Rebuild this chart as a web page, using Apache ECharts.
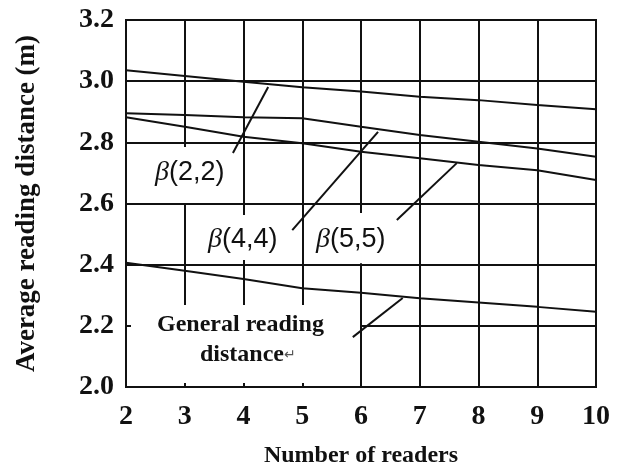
<!DOCTYPE html>
<html>
<head>
<meta charset="utf-8">
<script src="https://cdn.jsdelivr.net/npm/echarts@6/dist/echarts.min.js"></script>
<style>
  html, body { margin: 0; padding: 0; background: #fff; }
  #chart { width: 627px; height: 470px; }
</style>
</head>
<body>
<div id="chart"></div>
<script>
// readers on x axis
const readers = [2, 3, 4, 5, 6, 7, 8, 9, 10];
// average reading distance (m)
const beta22 = [3.036, 3.017, 2.998, 2.980, 2.966, 2.949, 2.938, 2.922, 2.908];
const beta44 = [2.895, 2.889, 2.882, 2.879, 2.851, 2.824, 2.802, 2.780, 2.753];
const beta55 = [2.882, 2.851, 2.818, 2.797, 2.769, 2.748, 2.726, 2.709, 2.677];
const general = [2.406, 2.380, 2.353, 2.323, 2.308, 2.290, 2.276, 2.262, 2.246];

const serif = '"Liberation Serif", "Times New Roman", serif';
const sans = '"Liberation Sans", Arial, sans-serif';

const pairs = ys => readers.map((x, i) => [x, ys[i]]);

// grid lines drawn as pieces, because the figure leaves gaps around its labels
const seg = (x1, y1, x2, y2) => [{ coord: [x1, y1] }, { coord: [x2, y2] }];
const gridLines = [
  // horizontal
  seg(2, 3.0, 10, 3.0), seg(2, 2.8, 10, 2.8), seg(2, 2.6, 10, 2.6),
  seg(2, 2.4, 10, 2.4), seg(6, 2.2, 10, 2.2),
  // vertical
  seg(3, 3.2, 3, 2.785), seg(3, 2.6, 3, 2.268),
  seg(4, 3.2, 4, 2.562), seg(4, 2.415, 4, 2.268),
  seg(5, 3.2, 5, 2.268),
  seg(6, 3.2, 6, 2.569), seg(6, 2.405, 6, 2.0),
  seg(7, 3.2, 7, 2.0), seg(8, 3.2, 8, 2.0), seg(9, 3.2, 9, 2.0)
];
// leader lines from the labels to the curves
const leaders = [
  seg(3.82, 2.765, 4.42, 2.981),
  seg(4.83, 2.513, 6.29, 2.834),
  seg(6.61, 2.546, 7.63, 2.732),
  seg(5.86, 2.163, 6.71, 2.291)
];

const curve = (name, ys) => ({
  name: name,
  type: 'line',
  data: pairs(ys),
  symbol: 'none',
  silent: true,
  lineStyle: { color: '#111', width: 2 }
});

const mychart = echarts.init(document.getElementById('chart'), null, { renderer: 'canvas' });

const betaText = (txt, x, y) => ({
  type: 'text',
  left: x, top: y,
  style: {
    text: '{i|β}' + txt,
    font: '27px ' + sans,
    fill: '#111',
    rich: { i: { fontStyle: 'italic', fontFamily: serif, fontSize: 28 } }
  }
});

mychart.setOption({
  animation: false,
  backgroundColor: '#fff',
  grid: {
    left: 126, right: 31, top: 20, bottom: 83,
    outerBoundsMode: 'none',
    show: true, borderColor: '#111', borderWidth: 2, backgroundColor: 'transparent'
  },
  xAxis: {
    type: 'value', min: 2, max: 10, interval: 1,
    name: 'Number of readers', nameLocation: 'middle', nameGap: 57,
    nameTextStyle: { fontFamily: serif, fontWeight: 'bold', fontSize: 24, color: '#111' },
    axisLine: { lineStyle: { color: '#111', width: 2 } },
    axisTick: { inside: true, length: 4, lineStyle: { color: '#111', width: 2 } },
    axisLabel: { fontFamily: serif, fontWeight: 'bold', fontSize: 28, color: '#111', margin: 16 },
    splitLine: { show: false }
  },
  yAxis: {
    type: 'value', min: 2.0, max: 3.2, interval: 0.2,
    name: 'Average reading distance (m)', nameLocation: 'middle', nameGap: 85,
    nameTextStyle: { fontFamily: serif, fontWeight: 'bold', fontSize: 27, color: '#111' },
    axisLine: { lineStyle: { color: '#111', width: 2 } },
    axisTick: { inside: true, length: 5, lineStyle: { color: '#111', width: 2 } },
    axisLabel: {
      fontFamily: serif, fontWeight: 'bold', fontSize: 28, color: '#111', margin: 12,
      formatter: v => v.toFixed(1)
    },
    splitLine: { show: false }
  },
  series: [
    {
      type: 'line', data: [], silent: true,
      markLine: {
        silent: true, symbol: 'none', animation: false,
        label: { show: false },
        lineStyle: { color: '#111', width: 2, type: 'solid' },
        data: gridLines.concat(leaders)
      }
    },
    curve('β(2,2)', beta22),
    curve('β(4,4)', beta44),
    curve('β(5,5)', beta55),
    curve('General reading distance', general)
  ],
  graphic: [
    betaText('(2,2)', 155, 159),
    betaText('(4,4)', 208, 226),
    betaText('(5,5)', 316, 226),
    {
      type: 'text', left: 157, top: 313,
      style: { text: 'General reading', font: 'bold 24px ' + serif, fill: '#111' }
    },
    {
      type: 'text', left: 200, top: 343,
      style: {
        text: 'distance{r|\u21b5}',
        font: 'bold 24px ' + serif, fill: '#111',
        rich: { r: { fontFamily: sans, fontSize: 14, fontWeight: 'normal', fill: '#555', color: '#555' } }
      }
    }
  ]
});

window.addEventListener('resize', () => { mychart.resize(); });
</script>
</body>
</html>
